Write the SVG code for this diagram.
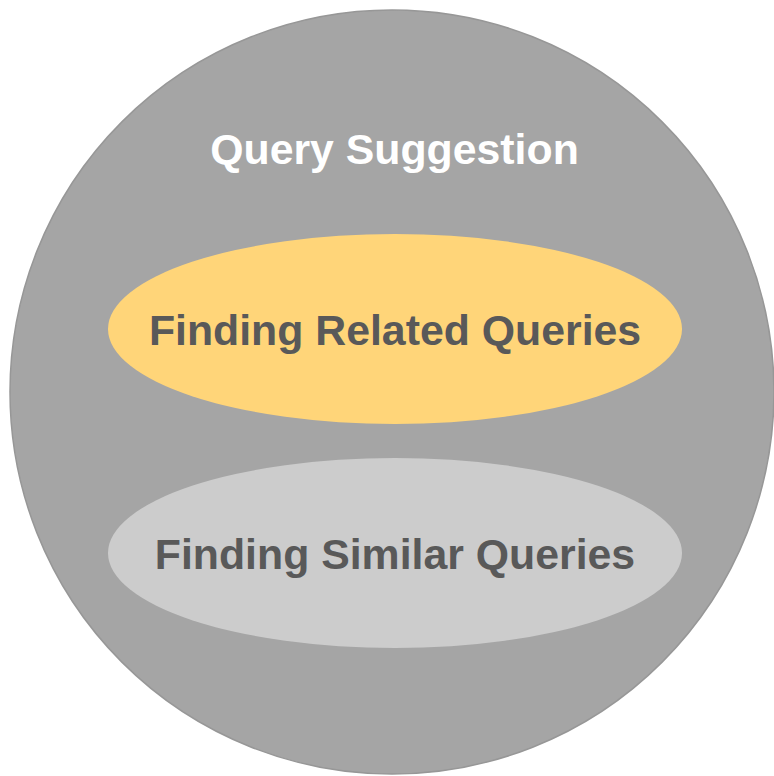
<svg xmlns="http://www.w3.org/2000/svg" width="774" height="776" viewBox="0 0 774 776">
<style>
.lbl{font-family:"Liberation Sans",Arial,sans-serif;font-weight:bold;font-size:42.8px;text-anchor:middle}
.dark{fill:#595959}
</style>
<rect width="774" height="776" fill="#ffffff"/>
<g id="query-suggestion">
<circle cx="392" cy="392" r="382" fill="#a5a5a5" stroke="#979797" stroke-width="1.5"/>
<text class="lbl" x="394.5" y="164" fill="#ffffff">Query Suggestion</text>
</g>
<g id="finding-related">
<ellipse cx="395" cy="329" rx="287" ry="95" fill="#ffd579"/>
<text class="lbl dark" x="395" y="345">Finding Related Queries</text>
</g>
<g id="finding-similar">
<ellipse cx="395" cy="553" rx="287" ry="95" fill="#cccccc"/>
<text class="lbl dark" x="395" y="569">Finding Similar Queries</text>
</g>
<g id="connectors"/>
</svg>
